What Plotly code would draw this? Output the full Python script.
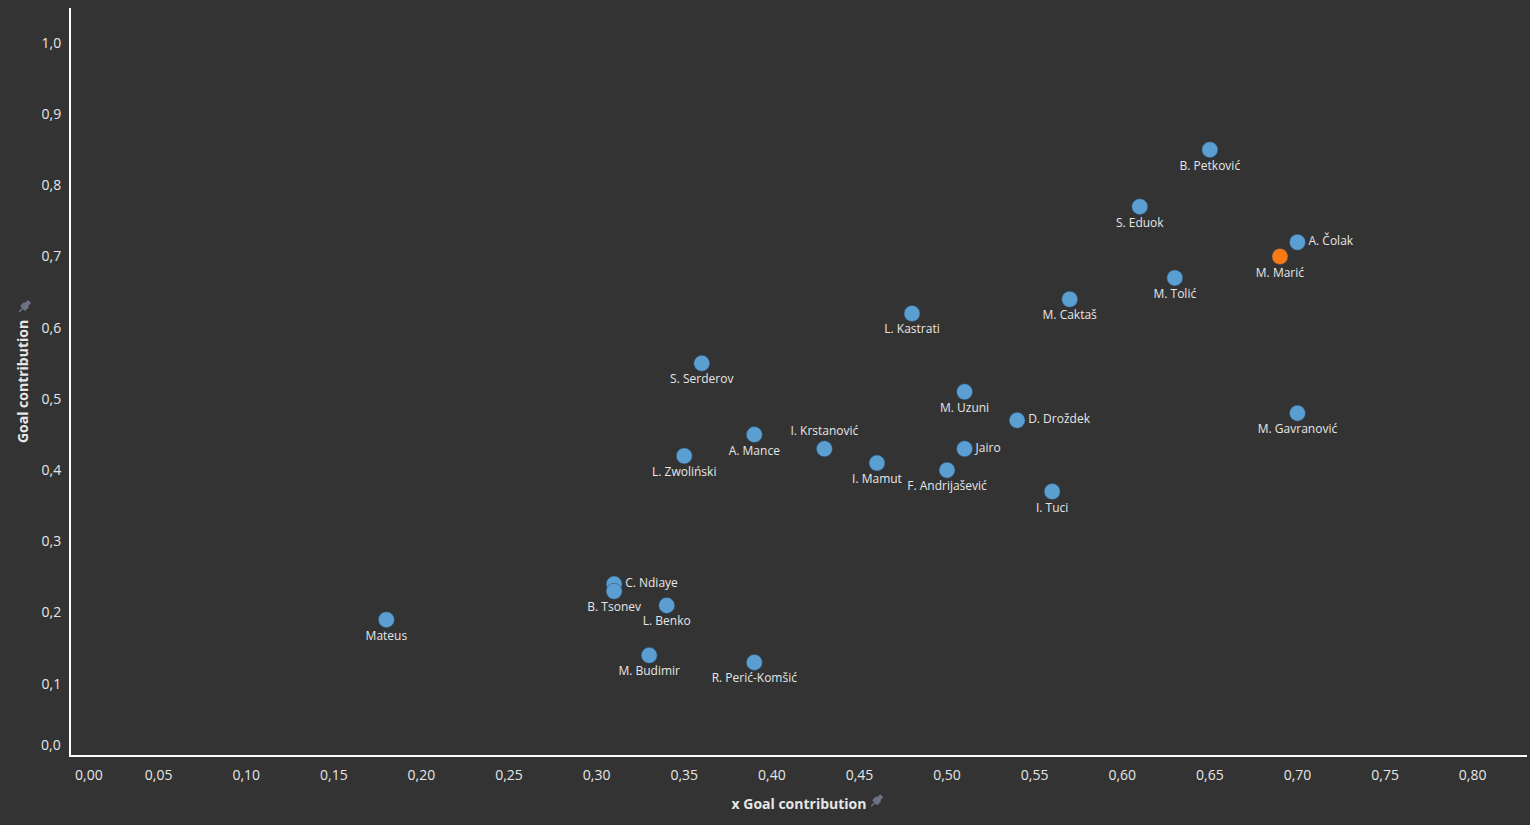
import plotly.graph_objects as go

players = ["B. Petković", "S. Eduok", "A. Čolak", "M. Marić", "M. Tolić", "M. Caktaš",
           "L. Kastrati", "S. Serderov", "M. Uzuni", "D. Droždek", "M. Gavranović",
           "A. Mance", "I. Krstanović", "Jairo", "L. Zwoliński", "I. Mamut",
           "F. Andrijašević", "I. Tuci", "C. Ndiaye", "B. Tsonev", "L. Benko",
           "Mateus", "M. Budimir", "R. Perić-Komšić"]
xgc = [0.65, 0.61, 0.70, 0.69, 0.63, 0.57, 0.48, 0.36, 0.51, 0.54, 0.70,
       0.39, 0.43, 0.51, 0.35, 0.46, 0.50, 0.56, 0.31, 0.31, 0.34,
       0.18, 0.33, 0.39]
gc = [0.85, 0.77, 0.72, 0.70, 0.67, 0.64, 0.62, 0.55, 0.51, 0.47, 0.48,
      0.45, 0.43, 0.43, 0.42, 0.41, 0.40, 0.37, 0.24, 0.23, 0.21,
      0.19, 0.14, 0.13]
label_pos = ["bottom center", "bottom center", "middle right", "bottom center",
             "bottom center", "bottom center", "bottom center", "bottom center",
             "bottom center", "middle right", "bottom center", "bottom center",
             "top center", "middle right", "bottom center", "bottom center",
             "bottom center", "bottom center", "middle right", "bottom center",
             "bottom center", "bottom center", "bottom center", "bottom center"]
highlight = "M. Marić"

x_ticks = [i * 0.05 for i in range(17)]
y_ticks = [i * 0.1 for i in range(11)]

BG = "#333333"
BLUE = "#5b9fd2"
ORANGE = "#f97a12"
TXT = "#e6e6e6"
FONT = "Open Sans"

colors = [ORANGE if p == highlight else BLUE for p in players]

fig = go.Figure()
fig.add_trace(go.Scatter(
    x=xgc, y=gc, mode="markers+text", text=players, textposition=label_pos,
    textfont=dict(family=FONT, size=12, color=TXT),
    marker=dict(size=16, color=colors, line=dict(width=1, color="rgba(40,70,100,0.5)")),
    hoverinfo="text", cliponaxis=False, showlegend=False,
))


def fmt(v, d):
    return f"{v:.{d}f}".replace(".", ",")


fig.update_xaxes(
    range=[0, 0.831], tickvals=x_ticks[1:], ticktext=[fmt(v, 2) for v in x_ticks[1:]],
    showgrid=False, zeroline=False, showline=True, linecolor="#ffffff", linewidth=2,
    ticks="", ticklabelstandoff=6, tickfont=dict(family=FONT, size=14, color=TXT),
    title=dict(text="<b>x Goal contribution</b>", font=dict(family=FONT, size=14, color=TXT), standoff=16),
)
fig.update_yaxes(
    range=[0, 1.049], tickvals=y_ticks[1:], ticktext=[fmt(v, 1) for v in y_ticks[1:]],
    showgrid=False, zeroline=False, showline=True, linecolor="#ffffff", linewidth=2,
    ticks="", ticklabelstandoff=5, tickfont=dict(family=FONT, size=14, color=TXT),
    title=dict(text="<b>Goal contribution</b>", font=dict(family=FONT, size=14, color=TXT), standoff=10),
)

# zero labels shifted inward (as in the reference)
fig.add_annotation(x=0, y=0, xref="x", yref="y", text=fmt(0, 2), showarrow=False,
                   xanchor="left", yanchor="top", xshift=2, yshift=-8,
                   font=dict(family=FONT, size=14, color=TXT))
fig.add_annotation(x=0, y=0, xref="x", yref="y", text=fmt(0, 1), showarrow=False,
                   xanchor="right", yanchor="bottom", xshift=-8, yshift=-1,
                   font=dict(family=FONT, size=14, color=TXT))

pin = "M -5 -5 L -1 -1 M -3 1 L 1 -3 L 4 0 L 0 4 Z M 2 4 L 4 2 L 6 4 L 4 6 Z"
for ax, ay in [(-0.0322, 0.5997), (0.553, -0.062)]:
    fig.add_shape(type="path", xref="paper", yref="paper", xsizemode="pixel", ysizemode="pixel",
                  xanchor=ax, yanchor=ay, path=pin, line=dict(color="#6b7385", width=1.5),
                  fillcolor="#6b7385")

fig.update_layout(
    width=1530, height=825, paper_bgcolor=BG, plot_bgcolor=BG,
    margin=dict(l=71, r=3, t=8, b=70), font=dict(family=FONT, color=TXT),
)

fig.write_html("out.html")
